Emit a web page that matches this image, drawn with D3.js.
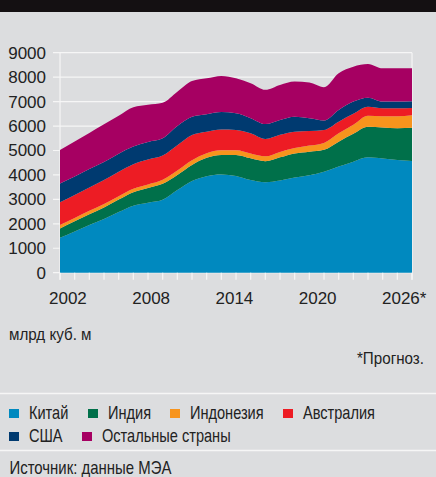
<!DOCTYPE html>
<html lang="ru">
<head>
    <meta charset="UTF-8" />
    <title>Добыча угля</title>
    <script src="https://d3js.org/d3.v7.min.js"></script>
    <style>
        body {
            margin: 0;
            background: #dcdddf;
            font-family: "Liberation Sans", Arial, sans-serif;
        }
        svg text {
            fill: #222;
        }
    </style>
</head>
<body>
<script>
    // годы и ряды (млрд куб. м)
    const years = [2002, 2003, 2004, 2005, 2006, 2007, 2008, 2009, 2010, 2011, 2012, 2013,
                   2014, 2015, 2016, 2017, 2018, 2019, 2020, 2021, 2022, 2023, 2024, 2025, 2026];
    const china     = [1430, 1690, 1950, 2200, 2480, 2740, 2860, 2980, 3380, 3750, 3950, 4020,
                       3960, 3790, 3700, 3770, 3890, 3990, 4130, 4340, 4540, 4720, 4670, 4610, 4570];
    const india     = [380, 410, 440, 470, 510, 550, 610, 660, 620, 660, 750, 800,
                       860, 890, 860, 950, 990, 960, 900, 1020, 1140, 1250, 1270, 1300, 1360];
    const indonesia = [140, 140, 140, 140, 140, 140, 140, 160, 180, 190, 190, 190,
                       190, 200, 200, 220, 220, 250, 280, 340, 370, 450, 460, 490, 510];
    const australia = [930, 940, 960, 980, 1000, 1010, 1020, 990, 1030, 1030, 880, 850,
                       830, 820, 710, 700, 670, 600, 530, 480, 450, 370, 330, 330, 300];
    const usa       = [770, 760, 750, 740, 740, 720, 720, 710, 790, 750, 710, 710,
                       680, 620, 610, 610, 610, 520, 390, 480, 500, 370, 270, 270, 270];
    const others    = [1370, 1430, 1480, 1540, 1550, 1610, 1520, 1450, 1400, 1460, 1470, 1480,
                       1430, 1430, 1400, 1430, 1440, 1460, 1360, 1500, 1430, 1380, 1360, 1360, 1350];

    const seriesNames = ['Китай', 'Индия', 'Индонезия', 'Австралия', 'США', 'Остальные страны'];
    const seriesData = [china, india, indonesia, australia, usa, others];
    const colors = ['#0089bf', '#00704a', '#f7941d', '#ed1c24', '#003a70', '#a60062'];

    const yTicks = [0, 1000, 2000, 3000, 4000, 5000, 6000, 7000, 8000, 9000];
    const xLabels = ['2002', '2008', '2014', '2020', '2026*'];

    const W = 436, H = 477;
    const svg = d3.select('body').append('svg').attr('width', W).attr('height', H);

    // узкий текст: шрифт сжимается по горизонтали
    function narrowText(parent, tx, ty, str, size, sx) {
        return parent.append('g')
            .attr('transform', `translate(${tx},${ty}) scale(${sx},1)`)
            .append('text').attr('font-size', size).text(str);
    }

    // тёмная полоса заголовка сверху
    svg.append('rect').attr('x', 0).attr('y', 0).attr('width', W).attr('height', 12).attr('fill', '#141012');

    const x = d3.scaleLinear().domain([2002, 2026]).range([60, 412]);
    const y = d3.scaleLinear().domain([0, 9000]).range([272.7, 52.7]);

    // таблица для stack
    const rows = years.map((yr, i) => {
        const r = { year: yr };
        seriesNames.forEach((n, k) => { r[n] = seriesData[k][i]; });
        return r;
    });
    const stacked = d3.stack().keys(seriesNames)(rows);

    // сетка
    svg.append('g').selectAll('line').data(yTicks).enter().append('line')
        .attr('x1', 53).attr('x2', x(2026))
        .attr('y1', d => y(d)).attr('y2', d => y(d))
        .attr('stroke', '#f6f6f6').attr('stroke-width', 1.2);
    svg.append('line').attr('x1', x(2002)).attr('x2', x(2002))
        .attr('y1', y(9000)).attr('y2', y(0) + 7)
        .attr('stroke', '#f6f6f6').attr('stroke-width', 1.2);
    svg.append('line').attr('x1', x(2026)).attr('x2', x(2026))
        .attr('y1', y(9000)).attr('y2', y(0) + 7)
        .attr('stroke', '#f6f6f6').attr('stroke-width', 1.2);

    // области
    const area = d3.area()
        .x(d => x(d.data.year))
        .y0(d => y(d[0]))
        .y1(d => y(d[1]))
        .curve(d3.curveMonotoneX);

    svg.append('g').selectAll('path').data(stacked).enter().append('path')
        .attr('d', area)
        .attr('fill', (d, i) => colors[i]);

    // засечки по оси X
    svg.append('g').selectAll('line').data(years).enter().append('line')
        .attr('x1', d => x(d)).attr('x2', d => x(d))
        .attr('y1', y(0)).attr('y2', y(0) + 7)
        .attr('stroke', '#f6f6f6').attr('stroke-width', 1.2);

    // подписи оси Y
    const yAxis = svg.append('g')
        .attr('transform', 'translate(60,0)')
        .call(d3.axisLeft(y).tickValues(yTicks).tickSize(0).tickPadding(14).tickFormat(d3.format('d')));
    yAxis.select('.domain').remove();
    yAxis.selectAll('text')
        .attr('font-family', '"Liberation Sans", Arial, sans-serif')
        .attr('font-size', 17).attr('fill', '#222');

    // подписи оси X
    const xl = d3.scalePoint().domain(xLabels).range([49, 382]);
    svg.append('g').selectAll('text').data(xLabels).enter().append('text')
        .attr('x', d => xl(d)).attr('y', 303.5)
        .attr('font-size', 17)
        .text(d => d);

    narrowText(svg, 9, 340, 'млрд куб. м', 16.5, 0.92);
    narrowText(svg, 424, 364, '*Прогноз.', 16.5, 0.92).attr('text-anchor', 'end');

    // легенда
    svg.append('line').attr('x1', 0).attr('x2', W).attr('y1', 393.5).attr('y2', 393.5)
        .attr('stroke', '#f6f6f6').attr('stroke-width', 1.5);
    svg.append('line').attr('x1', 0).attr('x2', W).attr('y1', 450.5).attr('y2', 450.5)
        .attr('stroke', '#f6f6f6').attr('stroke-width', 1.5);

    const legendPos = [[9, 409], [88, 409], [170, 409], [283, 409], [9, 432], [82, 432]];
    const leg = svg.append('g').selectAll('g').data(seriesNames).enter().append('g')
        .attr('transform', (d, i) => `translate(${legendPos[i][0]},${legendPos[i][1]})`);
    leg.append('rect').attr('width', 10).attr('height', 9).attr('fill', (d, i) => colors[i]);
    leg.each(function (d) {
        narrowText(d3.select(this), 20, 10, d, 18, 0.81);
    });

    narrowText(svg, 9.5, 473.5, 'Источник: данные МЭА', 18, 0.83);
</script>
</body>
</html>
